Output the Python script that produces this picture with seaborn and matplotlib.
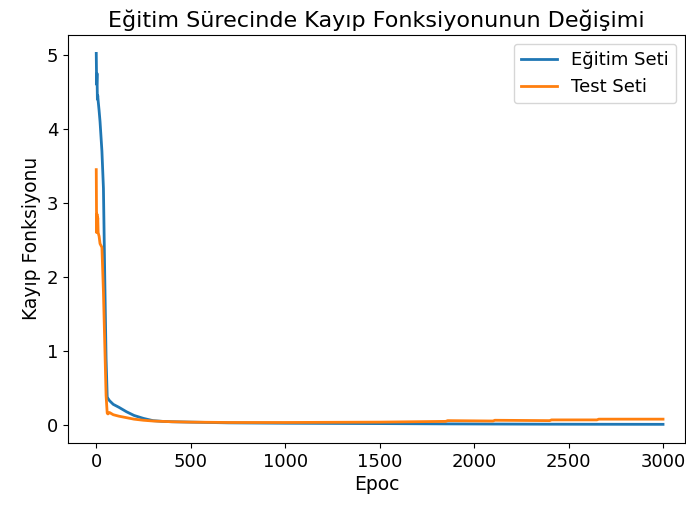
import matplotlib
matplotlib.use("Agg")
import matplotlib.pyplot as plt
import seaborn as sns
import pandas as pd

epochs = [0, 2, 4, 6, 8, 10, 15, 20, 30, 38, 45, 52, 58, 62, 70, 90, 120, 160, 200, 250, 300, 350,
          400, 500, 700, 1000, 1500, 1850, 1860, 2100, 2110, 2400, 2410, 2650, 2660, 3000]
train_loss = [5.02, 4.6, 4.75, 4.4, 4.45, 4.38, 4.25, 4.1, 3.7, 3.2, 2.0, 0.9, 0.38, 0.36, 0.33, 0.28,
              0.24, 0.18, 0.13, 0.09, 0.06, 0.05, 0.045, 0.04, 0.03, 0.025, 0.02, 0.016, 0.016, 0.014,
              0.014, 0.012, 0.012, 0.011, 0.011, 0.01]
test_loss = [3.45, 2.6, 2.85, 2.7, 2.8, 2.6, 2.55, 2.45, 2.4, 1.8, 1.1, 0.4, 0.16, 0.15, 0.17, 0.14,
             0.12, 0.1, 0.08, 0.065, 0.055, 0.05, 0.045, 0.04, 0.035, 0.035, 0.04, 0.05, 0.06, 0.055,
             0.065, 0.06, 0.07, 0.07, 0.08, 0.08]
series_names = ["Eğitim Seti", "Test Seti"]

df = pd.DataFrame({
    "Epoc": epochs + epochs,
    "loss": train_loss + test_loss,
    "set": [series_names[0]] * len(epochs) + [series_names[1]] * len(epochs),
})

fig, ax = plt.subplots(figsize=(6.86, 5.05), dpi=100)
sns.lineplot(data=df, x="Epoc", y="loss", hue="set", palette=["#1f77b4", "#ff7f0e"],
             linewidth=2, ax=ax, legend=True)
ax.set_title("Eğitim Sürecinde Kayıp Fonksiyonunun Değişimi", fontsize=16, pad=6)
ax.set_xlabel("Epoc", fontsize=13.5, labelpad=3)
ax.set_ylabel("Kayıp Fonksiyonu", fontsize=13.5, labelpad=4)
ax.tick_params(labelsize=13)
ax.set_xticks([0, 500, 1000, 1500, 2000, 2500, 3000])
ax.set_xlim(-150, 3118)
ax.legend(title=None, fontsize=13, loc="upper right")
fig.subplots_adjust(left=0.099, right=0.999, top=0.931, bottom=0.123)
fig.savefig("out.png", dpi=100)
